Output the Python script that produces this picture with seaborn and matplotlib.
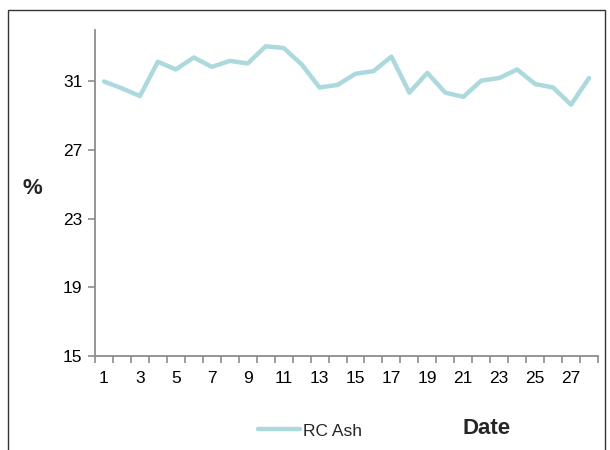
import matplotlib
matplotlib.use("Agg")
import matplotlib.pyplot as plt
import seaborn as sns
import numpy as np
import pandas as pd
from matplotlib.patches import Rectangle

days = list(range(1, 29))
rc_ash = [31.0, 30.6, 30.15, 32.15, 31.7, 32.4, 31.85, 32.2, 32.05, 33.05,
          32.95, 32.0, 30.65, 30.8, 31.45, 31.6, 32.45, 30.35, 31.5, 30.35,
          30.1, 31.05, 31.2, 31.7, 30.85, 30.65, 29.65, 31.2]
y_ticks = [15, 19, 23, 27, 31]
x_labels = list(range(1, 29, 2))

df = pd.DataFrame({"Date": days, "RC Ash": rc_ash})

sns.set_style("white")
plt.rcParams["font.family"] = ["Liberation Sans", "DejaVu Sans"]

fig = plt.figure(figsize=(6.1, 4.5), dpi=100)
ax = fig.add_axes([95 / 610, 94 / 450, 503 / 610, 326 / 450])

sns.lineplot(data=df, x="Date", y="RC Ash", ax=ax, color="#acd9dd",
             linewidth=3.2, label="RC Ash", legend=False)

ax.set_xlim(0.5, 28.5)
ax.set_ylim(15, 34)
ax.set_yticks(y_ticks)
ax.set_xticks(x_labels)
ax.set_xticks(np.arange(0.5, 29, 1), minor=True)

for side in ["top", "right"]:
    ax.spines[side].set_visible(False)
for side in ["left", "bottom"]:
    ax.spines[side].set_color("#8c8c8c")
    ax.spines[side].set_linewidth(1.3)

ax.tick_params(axis="y", which="major", length=5, width=1.2, color="#8c8c8c",
               labelsize=12.5, labelcolor="black", pad=4, left=True)
ax.tick_params(axis="x", which="major", length=0, labelsize=12.5,
               labelcolor="black", pad=11)
ax.tick_params(axis="x", which="minor", length=5, width=1.2, color="#8c8c8c",
               bottom=True)
for lab in ax.get_xticklabels() + ax.get_yticklabels():
    lab.set_fontweight("medium")

ax.set_xlabel("")
ax.set_ylabel("")
fig.text(32 / 610, 1 - 188 / 450, "%", fontsize=16, fontweight="bold",
         ha="center", va="center")
fig.text(487 / 610, 1 - 428 / 450, "Date", fontsize=16, fontweight="bold",
         ha="center", va="center")

handles, labels = ax.get_legend_handles_labels()
fig.legend(handles, labels, loc="center", bbox_to_anchor=(310 / 610, 1 - 431 / 450),
           frameon=False, fontsize=12.5, handlelength=2.4, handletextpad=0.2)

fig.patches.append(Rectangle((8 / 610, -0.01), 597 / 610, 1 - 10 / 450 + 0.01,
                             transform=fig.transFigure, fill=False,
                             edgecolor="#333333", linewidth=1.0))

fig.savefig("out.png", dpi=100)
